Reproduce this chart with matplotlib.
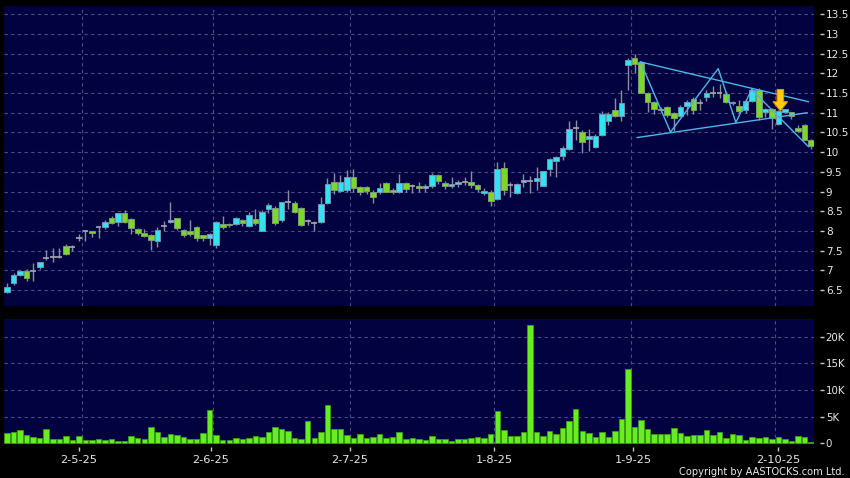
import matplotlib
matplotlib.use('Agg')
import matplotlib.pyplot as plt
from matplotlib.patches import Polygon

# daily candles, index = trading day (mid Apr 2025 -> Oct 2025)
opens = [6.45, 6.68, 6.87, 6.97, 6.99, 7.09, 7.30, 7.35, 7.35, 7.62,
         7.58, 7.83, 7.99, 7.99, 8.11, 8.11, 8.33, 8.22, 8.45, 8.31,
         8.06, 7.94, 7.89, 7.75, 8.12, 8.22, 8.32, 8.02, 8.00, 8.11,
         7.89, 7.81, 7.63, 8.17, 8.17, 8.17, 8.27, 8.12, 8.31, 8.01,
         8.55, 8.59, 8.27, 8.74, 8.70, 8.57, 8.24, 8.21, 8.23, 8.70,
         9.24, 9.02, 9.05, 9.36, 9.11, 9.11, 9.00, 8.98, 9.21, 9.05,
         9.00, 9.21, 9.13, 9.13, 9.08, 9.13, 9.42, 9.21, 9.13, 9.19,
         9.25, 9.25, 9.16, 8.96, 8.98, 8.81, 9.59, 9.16, 8.96, 9.24,
         9.28, 9.27, 9.15, 9.58, 9.78, 9.89, 10.08, 10.62, 10.52, 10.34,
         10.13, 10.43, 10.80, 11.06, 10.93, 12.22, 12.40, 12.30, 11.51, 11.28,
         11.08, 11.14, 10.99, 10.92, 11.17, 11.34, 11.24, 11.39, 11.51, 11.51,
         11.48, 11.24, 11.18, 11.06, 11.31, 11.58, 11.01, 11.09, 10.71, 11.02,
         11.01, 10.62, 10.70, 10.31]
highs = [6.68, 6.92, 7.02, 7.03, 7.18, 7.22, 7.52, 7.56, 7.56, 7.66,
         7.65, 7.92, 8.02, 8.00, 8.12, 8.27, 8.37, 8.46, 8.53, 8.33,
         8.08, 8.05, 7.92, 8.10, 8.25, 8.73, 8.33, 8.04, 8.28, 8.13,
         7.90, 7.95, 8.25, 8.38, 8.20, 8.35, 8.30, 8.47, 8.56, 8.52,
         8.72, 8.63, 8.74, 9.04, 8.76, 8.60, 8.29, 8.25, 8.85, 9.34,
         9.47, 9.43, 9.55, 9.57, 9.15, 9.15, 9.03, 9.21, 9.23, 9.10,
         9.44, 9.25, 9.20, 9.25, 9.20, 9.47, 9.45, 9.27, 9.38, 9.30,
         9.38, 9.51, 9.18, 9.08, 9.05, 9.76, 9.75, 9.25, 9.22, 9.45,
         9.40, 9.62, 9.53, 9.84, 9.90, 10.15, 10.79, 10.81, 10.56, 10.60,
         10.45, 11.04, 11.02, 11.37, 11.58, 12.38, 12.49, 12.32, 11.53, 11.30,
         11.15, 11.18, 11.02, 11.20, 11.33, 11.40, 11.34, 11.57, 11.68, 11.74,
         11.55, 11.30, 11.32, 11.35, 11.62, 11.62, 11.12, 11.12, 11.06, 11.10,
         11.03, 10.70, 10.72, 10.33]
lows = [6.42, 6.63, 6.85, 6.74, 6.72, 7.03, 7.26, 7.22, 7.30, 7.38,
        7.50, 7.74, 7.75, 7.85, 7.83, 8.06, 8.17, 8.12, 8.20, 7.92,
        7.90, 7.85, 7.52, 7.60, 8.00, 8.20, 8.02, 7.85, 7.88, 7.75,
        7.75, 7.64, 7.56, 8.05, 8.10, 8.15, 8.12, 8.10, 8.15, 7.99,
        8.45, 8.14, 8.22, 8.55, 8.45, 8.12, 8.16, 8.01, 8.20, 8.68,
        8.95, 9.00, 9.00, 9.00, 8.90, 8.95, 8.70, 8.95, 8.98, 8.95,
        8.97, 9.00, 8.96, 8.98, 9.00, 9.10, 9.20, 9.07, 9.10, 9.12,
        9.16, 9.10, 8.98, 8.90, 8.62, 8.78, 8.91, 8.87, 8.93, 9.12,
        8.97, 9.05, 9.13, 9.40, 9.38, 9.80, 10.05, 10.32, 9.97, 10.03,
        10.10, 10.40, 10.70, 10.88, 10.78, 11.57, 12.00, 11.50, 11.03, 10.97,
        11.02, 10.90, 10.53, 10.88, 10.95, 10.96, 11.06, 11.30, 11.41, 11.38,
        11.24, 11.20, 11.00, 11.00, 11.28, 10.81, 10.90, 10.58, 10.68, 11.00,
        10.84, 10.50, 10.30, 10.09]
closes = [6.58, 6.87, 6.97, 6.80, 6.99, 7.20, 7.30, 7.35, 7.35, 7.41,
          7.58, 7.83, 7.99, 7.94, 8.11, 8.22, 8.19, 8.45, 8.22, 8.07,
          7.94, 7.87, 7.76, 8.02, 8.12, 8.28, 8.07, 7.89, 7.93, 7.81,
          7.81, 7.92, 8.22, 8.09, 8.14, 8.33, 8.19, 8.40, 8.19, 8.49,
          8.65, 8.21, 8.73, 8.74, 8.49, 8.14, 8.24, 8.21, 8.68, 9.19,
          9.04, 9.24, 9.36, 9.08, 8.98, 9.02, 8.87, 9.08, 9.00, 9.00,
          9.21, 9.06, 9.13, 9.09, 9.13, 9.42, 9.28, 9.13, 9.19, 9.25,
          9.25, 9.17, 9.07, 9.02, 8.77, 9.57, 9.04, 9.16, 9.19, 9.29,
          9.28, 9.34, 9.51, 9.82, 9.87, 10.10, 10.60, 10.62, 10.26, 10.41,
          10.40, 10.96, 10.96, 10.93, 11.25, 12.35, 12.24, 11.51, 11.28, 11.09,
          11.08, 10.95, 10.86, 11.14, 11.28, 11.06, 11.24, 11.50, 11.51, 11.51,
          11.28, 11.28, 11.05, 11.31, 11.58, 10.90, 11.09, 10.86, 11.04, 11.09,
          10.92, 10.53, 10.32, 10.16]
volumes = [1875, 2060, 2500, 1500, 1250, 940, 2625, 810, 750, 1375,
           625, 1440, 625, 625, 875, 625, 750, 500, 440, 1375,
           1060, 875, 3060, 2125, 1250, 1750, 1560, 1190, 875, 875,
           1875, 6190, 1500, 690, 690, 1000, 875, 1060, 1375, 1190,
           2125, 3060, 2690, 2250, 1060, 875, 4125, 1060, 2125, 7125,
           2750, 2750, 1625, 1060, 1750, 1060, 1190, 1750, 1060, 1190,
           2125, 875, 940, 750, 625, 1440, 875, 810, 500, 810,
           810, 940, 1250, 1060, 1810, 6060, 2500, 1440, 1375, 2125,
           22190, 2060, 1375, 2250, 1750, 2940, 4190, 6440, 2250, 1940,
           1250, 2060, 1125, 2310, 4560, 13940, 3000, 4440, 2625, 1690,
           1690, 1810, 2940, 2000, 1375, 1625, 1625, 2500, 1560, 2125,
           1000, 1810, 1560, 625, 1250, 1060, 1125, 875, 1250, 750,
           440, 1310, 1190, 190]

date_labels = ['2-5-25', '2-6-25', '2-7-25', '1-8-25', '1-9-25', '2-10-25']
date_ticks = [11, 31.2, 52.4, 74.5, 95.8, 118]
date_grid = [11.5, 31.5, 52.5, 74.5, 95.5, 117.5]

# hand drawn triangle + zigzag (bar index, price)
upper_line = [(96.9, 12.29), (122.6, 11.28)]
lower_line = [(96.4, 10.37), (122.4, 11.00)]
zigzag = [(96.9, 12.29), (101.5, 10.51), (108.8, 12.12),
          (111.5, 10.75), (113.9, 11.59), (122.6, 10.14)]
arrow_bar = 118.3
arrow_top, arrow_neck, arrow_tip = 11.59, 11.28, 11.05

bg = '#000000'
panel = '#020240'
grid_col = '#4c4c88'
up_col = '#33e2f2'
down_col = '#7ad928'
doji_col = '#a8a8b0'
wick_col = '#8c8ca0'
txt = '#e8e8e8'

fig = plt.figure(figsize=(8.5, 4.78), dpi=100, facecolor=bg)
ax = fig.add_axes([4 / 850, 1 - 306 / 478, 810 / 850, 300 / 478], facecolor=panel)
axv = fig.add_axes([4 / 850, 1 - 444 / 478, 810 / 850, 125 / 478], facecolor=panel)

idx = list(range(len(opens)))

# wicks
ax.vlines(idx, lows, highs, color=wick_col, lw=1, zorder=2)

# bodies
for i in idx:
    o, c = opens[i], closes[i]
    if c > o:
        ax.bar(i, c - o, bottom=o, width=0.86, color=up_col,
               edgecolor='#6f98b0', lw=0.7, zorder=3)
    elif c < o:
        ax.bar(i, o - c, bottom=c, width=0.86, color=down_col,
               edgecolor='#7f9a70', lw=0.7, zorder=3)
    else:
        ax.hlines(o, i - 0.45, i + 0.45, color=doji_col, lw=1.2, zorder=3)

# triangle lines
line_kw = dict(color='#4fb4e8', lw=1, zorder=4)
ax.plot([p[0] for p in upper_line], [p[1] for p in upper_line], **line_kw)
ax.plot([p[0] for p in lower_line], [p[1] for p in lower_line], **line_kw)
ax.plot([p[0] for p in zigzag], [p[1] for p in zigzag], **line_kw)

# yellow arrow
bw, hw = 0.5, 1.12
arrow = Polygon([(arrow_bar - bw, arrow_top), (arrow_bar + bw, arrow_top),
                 (arrow_bar + bw, arrow_neck), (arrow_bar + hw, arrow_neck),
                 (arrow_bar, arrow_tip), (arrow_bar - hw, arrow_neck),
                 (arrow_bar - bw, arrow_neck)],
                closed=True, facecolor='#ffcc14', edgecolor='#e29600', lw=0.8, zorder=5)
ax.add_patch(arrow)

ax.set_xlim(-0.46, 123.45)
ax.set_ylim(6.094, 13.71)
ax.set_yticks([6.5 + 0.5 * k for k in range(15)])
ax.set_yticklabels(['%g' % (6.5 + 0.5 * k) for k in range(15)])
ax.set_xticks([])
for x in date_grid:
    ax.axvline(x, color=grid_col, lw=0.8, ls=(0, (3, 3)), zorder=1)
ax.grid(axis='y', color=grid_col, lw=0.8, ls=(0, (3, 3)), zorder=1)

# volume
axv.bar(idx, volumes, width=0.84, color='#66ee22', edgecolor='#3c9c14', lw=0.6, zorder=3)
axv.set_xlim(-0.46, 123.45)
axv.set_ylim(-100, 23320)
axv.set_yticks([0, 5000, 10000, 15000, 20000])
axv.set_yticklabels(['0', '5K', '10K', '15K', '20K'])
axv.set_xticks(date_ticks)
axv.set_xticklabels(date_labels)
for x in date_grid:
    axv.axvline(x, color=grid_col, lw=0.8, ls=(0, (3, 3)), zorder=1)
for y in [5000, 10000, 15000, 20000]:
    axv.axhline(y, color=grid_col, lw=0.8, ls=(0, (3, 3)), zorder=1)

for a in (ax, axv):
    a.yaxis.tick_right()
    for s in a.spines.values():
        s.set_visible(False)
    a.spines['right'].set_position(('outward', 4))
    a.spines['bottom'].set_position(('outward', 2))
    a.tick_params(axis='y', direction='out', length=3, width=1, color='#c8c8c8',
                  pad=1.5, labelsize=7.6, labelcolor=txt)
axv.tick_params(axis='y', labelsize=7.4)
axv.tick_params(axis='x', direction='out', length=3, width=1, color='#c8c8c8',
                pad=3, labelsize=8.2, labelcolor=txt)

fig.text(845 / 850, 1 - 471.7 / 478, 'Copyright by AASTOCKS.com Ltd.', color=txt,
         fontsize=7.1, ha='right', va='center')

fig.savefig('out.png', dpi=100, facecolor=bg)
